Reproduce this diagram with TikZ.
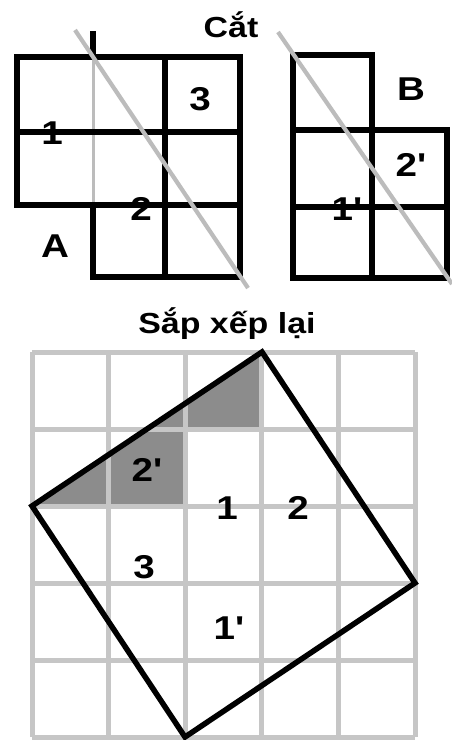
\documentclass[tikz,border=0pt]{standalone}
\usepackage{fontspec}
\newfontfamily\lab{Liberation Sans}[FakeStretch=1.17]
\definecolor{gridgray}{RGB}{198,198,198}
\definecolor{cutgray}{RGB}{188,188,188}
\definecolor{shadegray}{RGB}{140,140,140}
\begin{document}
\begin{tikzpicture}[x=1pt,y=-1pt,
  piece/.style={draw=black,line width=5.5pt,line join=miter},
  cutline/.style={draw=cutgray,line width=4.2pt},
  thincut/.style={draw=cutgray,line width=3pt},
  gridline/.style={draw=gridgray,line width=5pt},
  lbl/.style={font=\lab\bfseries\fontsize{33}{36}\selectfont,inner sep=0pt},
  ttl/.style={font=\lab\bfseries\fontsize{29}{32}\selectfont,inner sep=0pt}]
\useasboundingbox (0,0) rectangle (451,740);
\fill[white] (0,0) rectangle (451,740);

% ---------- titles ----------
\node[ttl,anchor=base] (tcat) at (231,37) {Cắt};
\node[ttl,anchor=base] (tsap) at (227,333) {Sắp xếp lại};

% ---------- piece A ----------
\draw[thincut] (93,57) -- (93,205);
\draw[piece] (17,57) -- (240,57) -- (240,277) -- (93,277) -- (93,205) -- (17,205) -- cycle;
\draw[piece] (17,132) -- (240,132);
\draw[piece] (93,205) -- (240,205);
\draw[piece] (165,57) -- (165,277);
\draw[piece] (93,31) -- (93,57);
\node[lbl] (a1) at (52,133) {1};
\node[lbl] (a2) at (141,209) {2};
\node[lbl] (a3) at (200,99) {3};
\node[lbl] (aA) at (55,246) {A};
\draw[cutline] (75,30) -- (248,288);

% ---------- piece B ----------
\draw[piece] (293,55) -- (372,55) -- (372,130) -- (447,130) -- (447,278) -- (293,278) -- cycle;
\draw[piece] (293,130) -- (372,130);
\draw[piece] (293,207) -- (447,207);
\draw[piece] (372,130) -- (372,278);
\node[lbl] (bB) at (411,89) {B};
\node[lbl] (b2) at (411,165) {2'};
\node[lbl] (b1) at (347,209) {1'};
\draw[cutline] (278,32) -- (452,284);

% ---------- rearranged grid ----------
\fill[shadegray] (32,506) -- (262,352) -- (262,429) -- (185,429) -- (185,506) -- cycle;
\foreach \i in {0,...,5} {
  \draw[gridline] ({32+76.6*\i},352) -- ({32+76.6*\i},737);
  \draw[gridline] (32,{352+77*\i}) -- (415,{352+77*\i});
}
\draw[piece] (262,352) -- (415,583) -- (185,737) -- (32,506) -- cycle;
\node[lbl] (c2p) at (147,470) {2'};
\node[lbl] (c1) at (227,508) {1};
\node[lbl] (c2) at (298,508) {2};
\node[lbl] (c3) at (144,567) {3};
\node[lbl] (c1p) at (229,628) {1'};
\end{tikzpicture}
\end{document}
